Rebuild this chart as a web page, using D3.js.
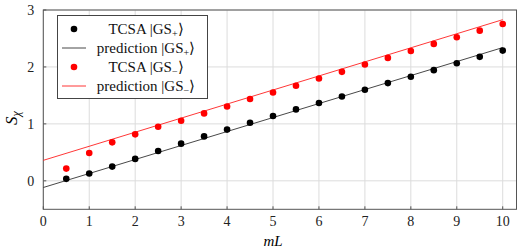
<html>
<head>
<script src="https://cdn.jsdelivr.net/npm/d3@7"></script>
</head>
<body style="margin:0">
<script>
// TCSA data, x = mL
var mL = [0.5, 1, 1.5, 2, 2.5, 3, 3.5, 4, 4.5, 5, 5.5, 6, 6.5, 7, 7.5, 8, 8.5, 9, 9.5, 10];
var tcsaPlus = [0.035, 0.13, 0.25, 0.385, 0.525, 0.653, 0.78, 0.90, 1.02, 1.138, 1.254, 1.366,
                1.48, 1.60, 1.716, 1.827, 1.944, 2.066, 2.177, 2.287];
var tcsaMinus = [0.215, 0.49, 0.676, 0.816, 0.95, 1.055, 1.184, 1.306, 1.436, 1.552, 1.669, 1.797,
                 1.914, 2.042, 2.159, 2.28, 2.405, 2.522, 2.637, 2.755];
// prediction lines, endpoints
var predPlus = [[0, -0.117], [10, 2.34]];
var predMinus = [[0, 0.36], [10, 2.83]];
var xTicks = [0, 1, 2, 3, 4, 5, 6, 7, 8, 9, 10];
var yTicks = [0, 1, 2, 3];

(function () {
var W = 517, H = 251;
var m = { left: 43.3, right: 516.5, top: 10, bottom: 209.3 };
var serif = function () { return "Liberation Serif"; };

var x = d3.scaleLinear().domain([0, 10.3]).range([m.left, m.right]);
var y = d3.scaleLinear().domain([-0.5, 3]).range([m.bottom, m.top]);

var svg = d3.select("body").append("svg")
  .attr("width", W).attr("height", H);

// grid
var grid = svg.append("g").attr("stroke", "#dcdcdc").attr("stroke-width", 1);
grid.selectAll("line.vx").data(xTicks).enter().append("line")
  .attr("x1", function (d) { return x(d); }).attr("x2", function (d) { return x(d); })
  .attr("y1", m.top).attr("y2", m.bottom);
grid.selectAll("line.hy").data(yTicks).enter().append("line")
  .attr("y1", function (d) { return y(d); }).attr("y2", function (d) { return y(d); })
  .attr("x1", m.left).attr("x2", m.right);

// tick marks (inside) and labels, from the scales
svg.append("g").selectAll("line").data(xTicks).enter().append("line")
  .attr("x1", function (d) { return x(d); }).attr("x2", function (d) { return x(d); })
  .attr("y1", m.bottom).attr("y2", m.bottom - 3).attr("stroke", "#555");
svg.append("g").selectAll("line").data(yTicks).enter().append("line")
  .attr("y1", function (d) { return y(d); }).attr("y2", function (d) { return y(d); })
  .attr("x1", m.left).attr("x2", m.left + 3).attr("stroke", "#555");
svg.selectAll("text.xt").data(xTicks).enter().append("text")
  .attr("class", "xt")
  .attr("x", function (d) { return x(d); }).attr("y", m.bottom + 17)
  .attr("text-anchor", "middle").attr("fill", "#222")
  .style("font-family", serif).style("font-size", "14px")
  .text(function (d) { return d; });
svg.selectAll("text.yt").data(yTicks).enter().append("text")
  .attr("class", "yt")
  .attr("x", m.left - 9).attr("y", function (d) { return y(d) + 5; })
  .attr("text-anchor", "end").attr("fill", "#222")
  .style("font-family", serif).style("font-size", "14px")
  .text(function (d) { return d; });

// frame
svg.append("rect")
  .attr("x", m.left).attr("y", m.top)
  .attr("width", m.right - m.left).attr("height", m.bottom - m.top)
  .attr("fill", "none").attr("stroke", "#555").attr("stroke-width", 1);

// prediction lines
var line = d3.line().x(function (d) { return x(d[0]); }).y(function (d) { return y(d[1]); });
svg.append("path").datum(predPlus).attr("d", line)
  .attr("fill", "none").attr("stroke", "#333").attr("stroke-width", 0.9);
svg.append("path").datum(predMinus).attr("d", line)
  .attr("fill", "none").attr("stroke", "#ff2020").attr("stroke-width", 0.9);

// dots
svg.append("g").selectAll("circle").data(mL).enter().append("circle")
  .attr("cx", function (d) { return x(d); })
  .attr("cy", function (d, i) { return y(tcsaPlus[i]); })
  .attr("r", 3.3).attr("fill", "#000");
svg.append("g").selectAll("circle").data(mL).enter().append("circle")
  .attr("cx", function (d) { return x(d); })
  .attr("cy", function (d, i) { return y(tcsaMinus[i]); })
  .attr("r", 3.3).attr("fill", "#f00");

// axis labels
svg.append("text").attr("x", x(5)).attr("y", 246)
  .attr("text-anchor", "middle")
  .style("font-family", serif).style("font-size", "15px").style("font-style", "italic")
  .text("mL");
var yl = svg.append("text")
  .attr("transform", "translate(17,118) rotate(-90)")
  .attr("text-anchor", "middle")
  .style("font-family", serif).style("font-size", "17px").style("font-style", "italic");
yl.append("tspan").text("S");
yl.append("tspan").attr("dy", 3).style("font-size", "12px").text("χ");

// legend
var legendItems = [
  { kind: "dot", color: "#000", label: "TCSA |GS", sign: "+" },
  { kind: "line", color: "#333", label: "prediction |GS", sign: "+" },
  { kind: "dot", color: "#f00", label: "TCSA |GS", sign: "−" },
  { kind: "line", color: "#ff2020", label: "prediction |GS", sign: "−" }
];
var lg = svg.append("g");
lg.append("rect").attr("x", 57.5).attr("y", 15.5).attr("width", 150).attr("height", 83)
  .attr("fill", "#fff").attr("stroke", "#444").attr("stroke-width", 1);
var rows = lg.selectAll("g.row").data(legendItems).enter().append("g")
  .attr("transform", function (d, i) { return "translate(0," + (29 + i * 19) + ")"; });
rows.filter(function (d) { return d.kind === "dot"; }).append("circle")
  .attr("cx", 74).attr("cy", 0).attr("r", 3.3).attr("fill", function (d) { return d.color; });
rows.filter(function (d) { return d.kind === "line"; }).append("line")
  .attr("x1", 62).attr("x2", 86).attr("y1", 0).attr("y2", 0)
  .attr("stroke", function (d) { return d.color; }).attr("stroke-width", 0.9);
var lt = rows.append("text").attr("x", 146).attr("y", 5).attr("text-anchor", "middle")
  .style("font-family", serif).style("font-size", "15px").attr("fill", "#111");
lt.append("tspan").text(function (d) { return d.label; });
lt.append("tspan").attr("dy", 3).style("font-size", "10px").text(function (d) { return d.sign; });
lt.append("tspan").attr("dy", -3).text("⟩");
})();
</script>
</body>
</html>
